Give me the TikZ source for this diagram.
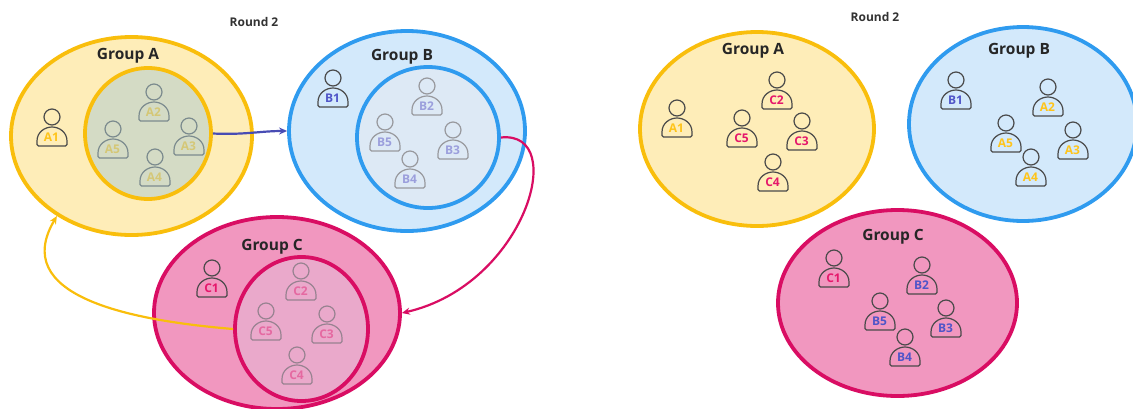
\documentclass[tikz,border=0pt]{standalone}
\usepackage{fontspec}
\setmainfont{Open Sans}
\usetikzlibrary{shapes.geometric, arrows.meta}

\definecolor{amberline}{HTML}{F9BE0C}
\definecolor{amberfill}{HTML}{FEEDB8}
\definecolor{skyline}{HTML}{2F9BEF}
\definecolor{skyfill}{HTML}{D3E9FB}
\definecolor{roseline}{HTML}{D90D63}
\definecolor{rosefill}{HTML}{F197BF}
\definecolor{amberword}{HTML}{FFC41A}
\definecolor{skyword}{HTML}{5055C8}
\definecolor{roseword}{HTML}{E5176B}
\definecolor{inkline}{HTML}{4A4A4A}

\tikzset{
    grouprim/.style={ellipse, draw, inner sep=0pt, line width=3.8pt},
    caption/.style={font=\fontsize{15.5}{17}\selectfont\bfseries, text=black!85},
    roundtag/.style={font=\fontsize{12}{14}\selectfont\bfseries, text=black!80},
    movearrow/.style={-{Stealth[length=8pt, width=7pt]}, line width=2.2pt},
    pics/person/.style 2 args={code={
        \node[circle, draw=inkline, line width=1.2pt, minimum size=16pt, inner sep=0pt] (-head) at (0,0) {};
        \draw[draw=inkline, line width=1.2pt] (-13.5,29) -- (13.5,29)
            .. controls (14.5,29) and (15,28.5) .. (15,27.5) -- (15,24)
            .. controls (15,15) and (7,10) .. (0,10)
            .. controls (-7,10) and (-15,15) .. (-15,24) -- (-15,27.5)
            .. controls (-15,28.5) and (-14.5,29) .. (-13.5,29) -- cycle;
        \node[font=\fontsize{12}{14}\selectfont\bfseries, text=#2, inner sep=0pt] (-tag) at (-.5,20) {#1};
    }},
}

\begin{document}
\begin{tikzpicture}[x=1pt, y=-1pt]
    \useasboundingbox (0,0) rectangle (1133,408);

    % Left: outer groups
    \node[grouprim, draw=amberline, fill=amberfill, minimum width=241pt, minimum height=198pt] (outerA) at (131.5,136) {};
    \node[grouprim, draw=skyline, fill=skyfill, minimum width=236pt, minimum height=200pt] (outerB) at (407,131) {};
    \node[grouprim, draw=roseline, fill=rosefill, minimum width=246pt, minimum height=192pt] (outerC) at (277,313) {};

    \node[caption] (capA) at (128,56) {Group A};
    \node[caption] (capB) at (402,57) {Group B};
    \node[caption] (capC) at (272,247) {Group C};
    \node[roundtag] (roundL) at (254,22) {Round 2};

    % Left: members
    \foreach \who/\x/\y/\col in {A1/52/117/amberword, A2/154/92/amberword, A3/189/126/amberword,
                                 A4/155/157/amberword, A5/113/129/amberword,
                                 B1/333/78/skyword, B2/427/86/skyword, B3/453/130/skyword,
                                 B4/410/159/skyword, B5/385/122/skyword,
                                 C1/212/268/roseword, C2/301/271/roseword, C3/327/314/roseword,
                                 C4/297/355/roseword, C5/266/311/roseword}{
        \pic (l\who) at (\x,\y) {person={\who}{\col}};
    }

    % Left: inner groups, veiling their members
    \node[grouprim, draw=amberline, fill={rgb,255:red,172;green,203;blue,210}, fill opacity=.5, minimum width=126pt, minimum height=131pt] (innerA) at (148,133.5) {};
    \node[grouprim, draw=skyline, fill={rgb,255:red,231;green,233;blue,241}, fill opacity=.5, minimum width=142pt, minimum height=141pt] (innerB) at (428,137.5) {};
    \node[grouprim, draw=roseline, fill={rgb,255:red,229;green,187;blue,215}, fill opacity=.5, minimum width=133pt, minimum height=144pt] (innerC) at (301.5,329) {};

    % Moves between groups
    \draw[movearrow, draw=skyword!90!black] (innerA.east) .. controls (245,135) and (260,131) .. (outerB.west);
    \draw[movearrow, draw=roseline] (innerB.east) .. controls (570,130) and (525,285) .. (outerC.east);
    \draw[movearrow, draw=amberline] (innerC.west) .. controls (125,320) and (10,295) .. (outerA.227);

    % Right: groups after the move
    \node[grouprim, draw=amberline, fill=amberfill, minimum width=234pt, minimum height=194pt] (afterA) at (757,129) {};
    \node[grouprim, draw=skyline, fill=skyfill, minimum width=228pt, minimum height=194pt] (afterB) at (1023,124) {};
    \node[grouprim, draw=roseline, fill=rosefill, minimum width=239pt, minimum height=186pt] (afterC) at (897.5,303) {};

    \node[caption] (capAfterA) at (753,51) {Group A};
    \node[caption] (capAfterB) at (1019,51) {Group B};
    \node[caption] (capAfterC) at (893,237) {Group C};
    \node[roundtag] (roundR) at (875,17) {Round 2};

    % Right: members
    \foreach \who/\x/\y/\col in {A1/677/108/amberword, C2/777/80/roseword, C3/802/121/roseword,
                                 C4/773/162/roseword, C5/742/118/roseword,
                                 B1/956/80/skyword, A2/1048/87/amberword, A3/1073/130/amberword,
                                 A4/1031/157/amberword, A5/1006/123/amberword,
                                 C1/834/258/roseword, B2/922/265/skyword, B3/946/308/skyword,
                                 B4/905/337/skyword, B5/880/301/skyword}{
        \pic (r\who) at (\x,\y) {person={\who}{\col}};
    }
\end{tikzpicture}
\end{document}
